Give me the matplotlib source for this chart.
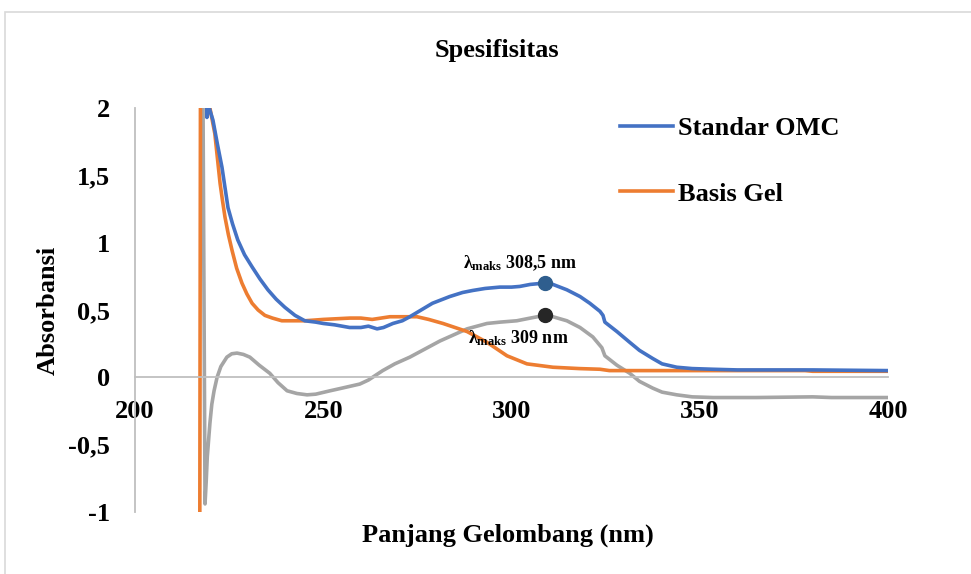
import matplotlib
matplotlib.use("Agg")
import matplotlib.pyplot as plt
import matplotlib.patches as patches

plt.rcParams['font.family'] = ['Liberation Serif', 'DejaVu Serif']
plt.rcParams['font.weight'] = 'bold'
plt.rcParams['mathtext.fontset'] = 'custom'
plt.rcParams['mathtext.rm'] = 'Liberation Serif:bold'
plt.rcParams['mathtext.it'] = 'Liberation Serif:bold'
plt.rcParams['mathtext.bf'] = 'Liberation Serif:bold'

# Standar OMC (blue)
wl_omc = [218.8, 219.1, 219.5, 220.7, 221.9, 223.1, 223.9, 224.7, 225.9, 227.3,
          229.1, 231.1, 233.2, 235.3, 237.5, 239.8, 242.5, 245.1, 248.0, 250.0,
          253.0, 257.0, 260.0, 262.0, 264.3, 266.0, 268.5, 271.0, 273.0, 276.0,
          279.0, 283.6, 287.0, 289.7, 293.0, 296.9, 300.0, 302.2, 305.0, 308.8,
          311.0, 314.7, 318.2, 320.8, 323.5, 324.3, 324.8, 328.0, 331.4, 334.0,
          337.5, 340.0, 343.9, 348.0, 353.5, 360.0, 380.0, 400.0]
abs_omc = [2.4, 1.93, 2.02, 1.91, 1.73, 1.56, 1.41, 1.26, 1.14, 1.02,
           0.91, 0.82, 0.73, 0.65, 0.58, 0.52, 0.46, 0.42, 0.41, 0.40,
           0.39, 0.37, 0.37, 0.38, 0.36, 0.37, 0.40, 0.42, 0.45, 0.50,
           0.55, 0.60, 0.63, 0.645, 0.66, 0.67, 0.67, 0.675, 0.69, 0.70,
           0.69, 0.65, 0.60, 0.55, 0.49, 0.46, 0.41, 0.34, 0.26, 0.20,
           0.14, 0.10, 0.075, 0.065, 0.06, 0.055, 0.055, 0.05]

# Basis Gel (orange)
wl_gel = [217.2, 217.4, 219.9, 221.2, 222.6, 223.2, 223.9, 224.8, 225.8, 227.0,
          228.4, 229.7, 231.1, 232.7, 234.5, 236.5, 239.0, 245.1, 250.0, 257.1,
          260.0, 263.0, 267.7, 271.0, 274.9, 278.0, 281.8, 285.0, 288.2, 293.5,
          298.8, 304.1, 311.0, 318.0, 323.5, 326.0, 340.0, 378.0, 380.0, 400.0]
abs_gel = [-1.3, 2.4, 2.0, 1.81, 1.44, 1.32, 1.19, 1.06, 0.94, 0.81,
           0.70, 0.62, 0.55, 0.50, 0.46, 0.44, 0.42, 0.42, 0.43, 0.44,
           0.44, 0.43, 0.45, 0.45, 0.45, 0.43, 0.40, 0.37, 0.34, 0.26,
           0.16, 0.10, 0.075, 0.065, 0.06, 0.05, 0.05, 0.05, 0.045, 0.045]

# selisih / spesifisitas (grey)
wl_diff = [218.0, 218.6, 218.9, 219.2, 219.9, 220.4, 221.0, 221.8, 222.8, 224.4,
           225.7, 227.1, 228.8, 230.5, 233.0, 235.8, 238.0, 240.4, 243.0, 245.7,
           248.0, 251.8, 255.0, 259.7, 262.0, 265.8, 269.0, 273.0, 277.0, 281.0,
           285.0, 288.2, 293.5, 297.0, 301.4, 305.0, 308.8, 311.0, 314.7, 318.2,
           321.6, 324.0, 324.8, 328.0, 331.4, 334.0, 337.5, 340.0, 343.9, 348.0,
           353.5, 365.0, 380.0, 385.0, 400.0]
abs_diff = [2.4, -0.94, -0.78, -0.59, -0.34, -0.20, -0.10, 0.0, 0.08, 0.15,
            0.175, 0.18, 0.17, 0.15, 0.09, 0.03, -0.04, -0.10, -0.12, -0.13,
            -0.125, -0.10, -0.08, -0.05, -0.02, 0.05, 0.10, 0.15, 0.21, 0.27,
            0.32, 0.36, 0.40, 0.41, 0.42, 0.44, 0.46, 0.45, 0.42, 0.37,
            0.30, 0.22, 0.16, 0.09, 0.03, -0.03, -0.08, -0.11, -0.13, -0.145,
            -0.15, -0.15, -0.145, -0.15, -0.15]

peak_wl = 308.8
peak_omc = 0.70
peak_diff = 0.46

xticks = [200, 250, 300, 350, 400]
yticks = [-1, -0.5, 0, 0.5, 1, 1.5, 2]
ytick_labels = ['-1', '-0,5', '0', '0,5', '1', '1,5', '2']

fig = plt.figure(figsize=(9.71, 5.74), dpi=100)
ax = fig.add_axes([135 / 971, 62 / 574, 753 / 971, 404 / 574])

ax.plot(wl_omc, abs_omc, color='#4472C4', lw=2.6, label='Standar OMC', zorder=3)
ax.plot(wl_gel, abs_gel, color='#ED7D31', lw=2.6, label='Basis Gel', zorder=2)
ax.plot(wl_diff, abs_diff, color='#A5A5A5', lw=2.6, label='_nolegend_', zorder=1)

# titik lambda maks
ax.plot([peak_wl], [peak_omc], marker='o', ms=10, color='#2F5E8E', zorder=4)
ax.plot([peak_wl], [peak_diff], marker='o', ms=10, color='#262626', zorder=4)
ax.text(287.1, 0.81, r'$\lambda_{\mathrm{maks}}$ 308,5 nm', fontsize=13,
        fontweight='bold', ha='left', va='baseline')
ax.text(288.4, 0.253, r'$\lambda_{\mathrm{maks}}$ 309 nm', fontsize=13,
        fontweight='bold', ha='left', va='baseline')

ax.set_xlim(200, 400)
ax.set_ylim(-1, 2)
ax.set_xticks(xticks)
ax.set_xticklabels([str(t) for t in xticks])
ax.set_yticks(yticks)
ax.set_yticklabels(ytick_labels)
ax.tick_params(length=0, labelsize=19)
ax.tick_params(axis='x', pad=16)
ax.tick_params(axis='y', pad=18)

for s in ['top', 'right']:
    ax.spines[s].set_visible(False)
ax.spines['bottom'].set_position(('data', 0))
ax.spines['bottom'].set_color('#BFBFBF')
ax.spines['left'].set_color('#BFBFBF')
ax.spines['bottom'].set_linewidth(1.3)
ax.spines['left'].set_linewidth(1.3)

fig.text(497 / 971, 1 - 51 / 574, 'Spesifisitas', fontsize=19, fontweight='bold',
         ha='center', va='center')
fig.text(48 / 971, 1 - 310 / 574, 'Absorbansi', fontsize=19, fontweight='bold',
         rotation=90, ha='center', va='center')
fig.text(508 / 971, 1 - 535 / 574, 'Panjang Gelombang (nm)', fontsize=19,
         fontweight='bold', ha='center', va='center')

leg = ax.legend(loc='upper left', bbox_to_anchor=(620 / 971, 1 - 117 / 574),
                bbox_transform=fig.transFigure, frameon=False, fontsize=19,
                handlelength=2.0, handletextpad=0.2, labelspacing=1.58,
                borderaxespad=0, borderpad=0)

# bingkai area grafik
border = patches.Rectangle((5 / 971, -0.02), 1.0, 1 - 12 / 574 + 0.02,
                           transform=fig.transFigure, fill=False,
                           edgecolor='#D9D9D9', lw=1.2, clip_on=False)
fig.patches.append(border)

fig.savefig('out.png', dpi=100)
